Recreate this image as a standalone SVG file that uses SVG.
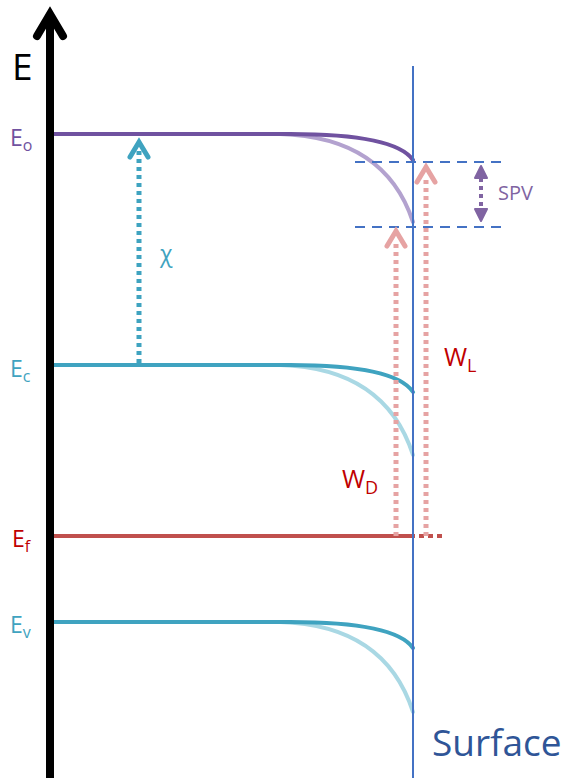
<svg xmlns="http://www.w3.org/2000/svg" width="571" height="778" viewBox="0 0 571 778">
<defs>
<style>
.lbl{font-family:"Open Sans","Liberation Sans",sans-serif}
.band{fill:none;stroke-width:4;stroke-linecap:round}
.dots{fill:none;stroke-width:5;stroke-dasharray:4 4}
</style>
</defs>
<rect width="571" height="778" fill="#fff"/>
<g id="levels">
<path class="band" d="M280,134 Q385,137 413,222" stroke="#b3a2cf"/>
<path class="band" d="M54,134 H290 Q395,134 413,160" stroke="#7052a0"/>
<path class="band" d="M280,365 Q385,368 413,455" stroke="#a9d8e4"/>
<path class="band" d="M54,365 H290 Q395,365 413,392" stroke="#3fa3c0"/>
<path class="band" d="M280,622 Q385,625 413,712" stroke="#a9d8e4"/>
<path class="band" d="M54,622 H290 Q395,622 413,648" stroke="#3fa3c0"/>
<line x1="54" y1="536" x2="410" y2="536" stroke="#c0504d" stroke-width="4"/>
<line x1="410" y1="536" x2="442" y2="536" stroke="#c0504d" stroke-width="4" stroke-dasharray="5 4"/>
</g>
<g id="surface">
<line x1="413" y1="66" x2="413" y2="778" stroke="#4472c4" stroke-width="2"/>
<line x1="355" y1="162" x2="508" y2="162" stroke="#4472c4" stroke-width="2" stroke-dasharray="10 7"/>
<line x1="355" y1="227" x2="505" y2="227" stroke="#4472c4" stroke-width="2" stroke-dasharray="10 7"/>
</g>
<g id="axis">
<line x1="50" y1="14" x2="50" y2="778" stroke="#000" stroke-width="8"/>
<polyline points="37,36 50,14 63,36" fill="none" stroke="#000" stroke-width="8" stroke-linecap="round" stroke-linejoin="miter"/>
</g>
<g id="connectors">
<g id="chi-arrow">
<line x1="139" y1="363" x2="139" y2="150" stroke="#3fa3c0" class="dots"/>
<polyline points="130,157 139,142 148,157" fill="none" stroke="#3fa3c0" stroke-width="5" stroke-linecap="round"/>
</g>
<g id="wd-arrow">
<line x1="396" y1="536" x2="396" y2="242" stroke="#e6a3a3" class="dots"/>
<polyline points="387,246 396,231 405,246" fill="none" stroke="#e6a3a3" stroke-width="5" stroke-linecap="round"/>
</g>
<g id="wl-arrow">
<line x1="426" y1="536" x2="426" y2="177" stroke="#e6a3a3" class="dots"/>
<polyline points="417,182 426,167 435,182" fill="none" stroke="#e6a3a3" stroke-width="5" stroke-linecap="round"/>
</g>
<g id="spv-arrow">
<line x1="481" y1="178" x2="481" y2="210" stroke="#8064a2" stroke-width="4" stroke-dasharray="4 4"/>
<polygon points="475,178 481,166 487,178" fill="#8064a2" stroke="#8064a2" stroke-width="2" stroke-linejoin="round"/>
<polygon points="475,209 481,221 487,209" fill="#8064a2" stroke="#8064a2" stroke-width="2" stroke-linejoin="round"/>
</g>
</g>
<g id="labels" class="lbl">
<text x="12" y="80" font-size="37" fill="#000">E</text>
<text x="10" y="146" font-size="23" fill="#7052a0">E<tspan font-size="16" dy="5">o</tspan></text>
<text x="10" y="377" font-size="23" fill="#3fa3c0">E<tspan font-size="16" dy="5">c</tspan></text>
<text x="12" y="547" font-size="23" fill="#c00000">E<tspan font-size="16" dy="5">f</tspan></text>
<text x="10" y="633" font-size="23" fill="#3fa3c0">E<tspan font-size="16" dy="5">v</tspan></text>
<text x="160" y="262" font-size="23" fill="#3fa3c0">χ</text>
<text x="498" y="200" font-size="20" fill="#8064a2">SPV</text>
<text x="342" y="488" font-size="25" fill="#c00000">W<tspan font-size="18" dy="6">D</tspan></text>
<text x="444" y="366" font-size="25" fill="#c00000">W<tspan font-size="18" dy="6">L</tspan></text>
<text x="432" y="756" font-size="37" fill="#2f5597">Surface</text>
</g>
</svg>
